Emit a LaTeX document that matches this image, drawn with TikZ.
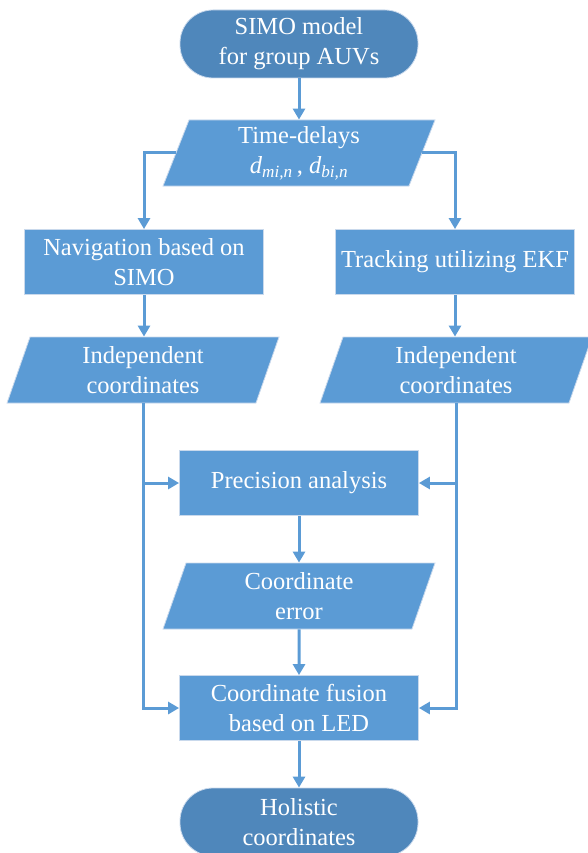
\documentclass[tikz,border=0pt]{standalone}
\usepackage{fontspec}
\setmainfont{Liberation Serif}
\newfontfamily\timesfont{Liberation Serif}
\usepackage{tikz}
\usetikzlibrary{shapes.geometric,arrows.meta}

\definecolor{termblue}{HTML}{4F87BB}
\definecolor{boxblue}{HTML}{5B9BD5}
\definecolor{boxedge}{HTML}{C9D9EC}

\tikzset{
  term/.style={shape=rectangle,rounded corners=33pt,fill=termblue,draw=boxedge,line width=0.8pt,
    minimum width=238pt,minimum height=68pt,text=white,align=center,inner sep=0pt},
  proc/.style={shape=rectangle,fill=boxblue,draw=boxedge,line width=0.8pt,
    minimum width=239pt,minimum height=65pt,text=white,align=center,inner sep=0pt},
  io/.style={shape=trapezium,trapezium left angle=64,trapezium right angle=116,
    trapezium stretches body,fill=boxblue,draw=boxedge,line width=0.8pt,
    minimum width=272pt,minimum height=66pt,text=white,align=center,inner sep=0pt},
  flow/.style={draw=boxblue,line width=3pt,-{Triangle[length=11pt,width=12pt]}}
}

\begin{document}
\begin{tikzpicture}[x=1pt,y=-1pt,font=\timesfont\fontsize{24.5}{30}\selectfont]
	
	\useasboundingbox (0,0) rectangle (588,853);
	
	\node[term] (start) at (299, 44)  {SIMO model\\for group AUVs};
	\node[io]   (td)    at (299, 153) {Time-delays\\\textit{d}\textsubscript{\itshape mi,n}\,, \textit{d}\textsubscript{\itshape bi,n}};
	\node[proc] (nav)   at (144, 262) {Navigation based on\\SIMO};
	\node[proc] (trk)   at (455, 262) {Tracking utilizing EKF};
	\node[io]   (inl)   at (143, 370) {Independent\\coordinates};
	\node[io]   (inr)   at (456, 370) {Independent\\coordinates};
	\node[proc] (prec)  at (299, 483) {Precision analysis};
	\node[io]   (err)   at (299, 596) {Coordinate\\error};
	\node[proc] (fus)   at (299, 708) {Coordinate fusion\\based on LED};
	\node[term] (stop)  at (299, 822) {Holistic\\coordinates};
	
	\draw[flow] (start) -- (td);
	\draw[flow] (td.west) -| (nav.north);
	\draw[flow] (td.east) -| (trk.north);
	\draw[flow] (nav) -- (nav |- inl.north);
	\draw[flow] (trk) -- (trk |- inr.north);
	\draw[flow] (inl.south) |- (prec.west);
	\draw[flow] (inl.south) |- (fus.west);
	\draw[flow] (inr.south) |- (prec.east);
	\draw[flow] (inr.south) |- (fus.east);
	\draw[flow] (prec) -- (err);
	\draw[flow] (err) -- (fus);
	\draw[flow] (fus) -- (stop);
	
\end{tikzpicture}
\end{document}
